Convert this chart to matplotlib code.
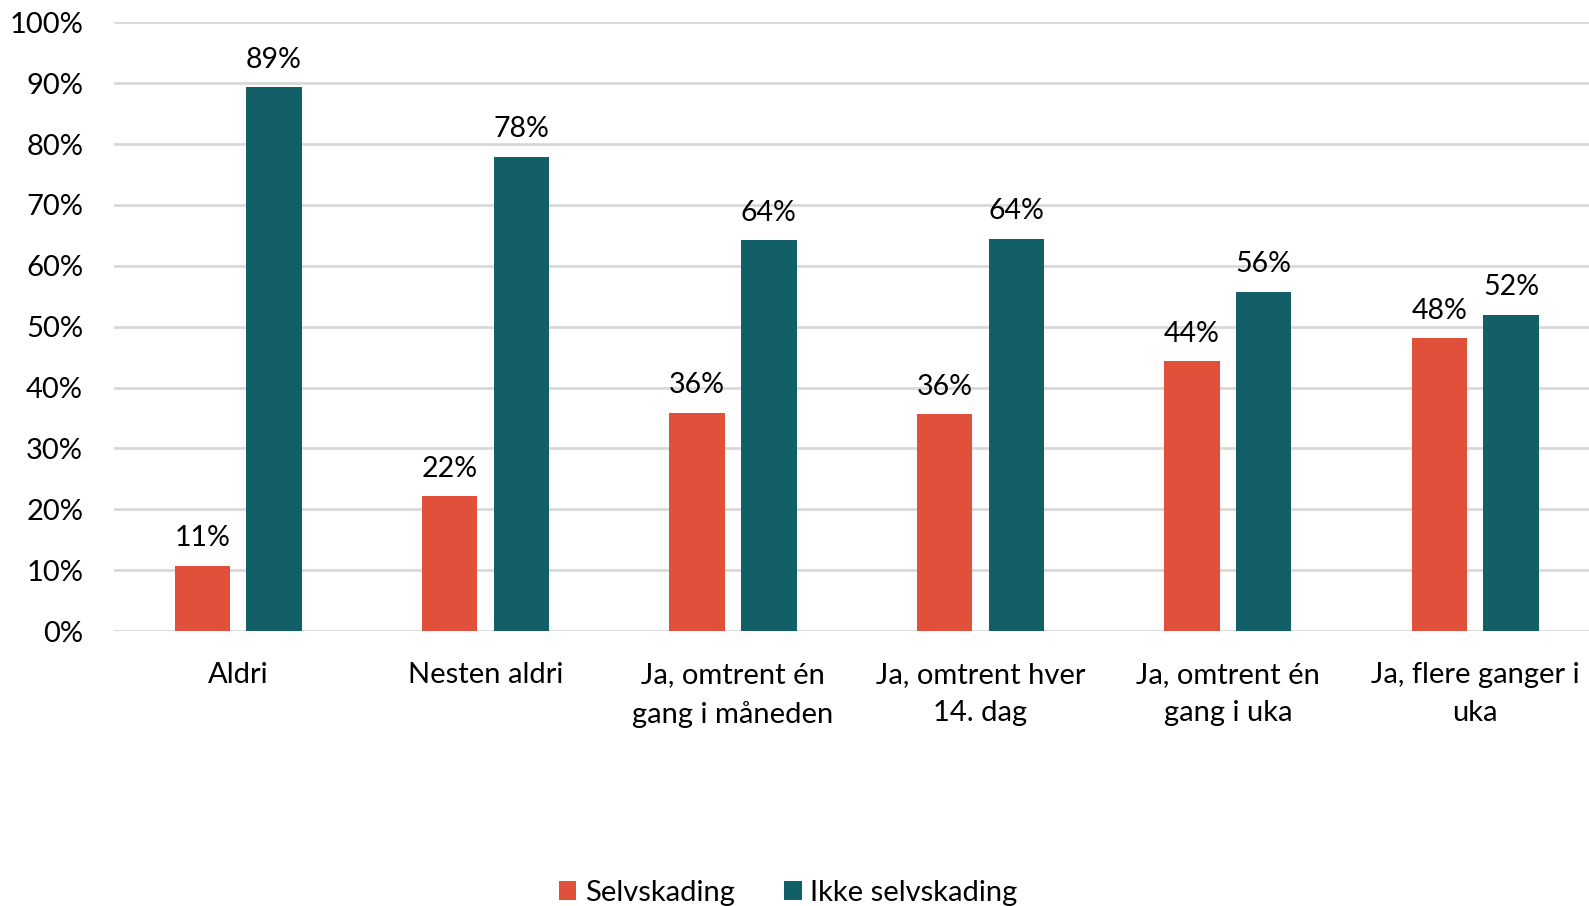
import numpy as np
import matplotlib.pyplot as plt

categories = ["Aldri", "Nesten aldri", "Ja, omtrent én\ngang i måneden",
              "Ja, omtrent hver\n14. dag", "Ja, omtrent én\ngang i uka",
              "Ja, flere ganger i\nuka"]
selvskading = [10.7, 22.1, 35.8, 35.6, 44.3, 48.1]
ikke_selvskading = [89.3, 77.9, 64.2, 64.4, 55.7, 51.9]
series_names = ["Selvskading", "Ikke selvskading"]
colors = ["#E0503B", "#135F67"]

plt.rcParams['font.family'] = ['Lato', 'DejaVu Sans']

fig = plt.figure(figsize=(15.89, 9.06), dpi=100)
# axes run a little past the right edge of the figure, as in the original
ax = fig.add_axes([114.4 / 1589, 1 - 631 / 906, (1599 - 114.4) / 1589, (631 - 22.3) / 906])

x = np.arange(len(categories))
w = 0.224
off = 0.145
bars1 = ax.bar(x - off, selvskading, w, color=colors[0], label=series_names[0], zorder=3)
bars2 = ax.bar(x + off, ikke_selvskading, w, color=colors[1], label=series_names[1], zorder=3)

for bars in (bars1, bars2):
    for b in bars:
        h = b.get_height()
        ax.text(b.get_x() + b.get_width() / 2, h + 2.4, f"{h:.0f}%", ha="center", va="bottom",
                fontsize=20.5, color="black")

ax.set_xlim(-0.5, len(categories) - 0.5)
ax.set_ylim(0, 100)
ax.set_yticks(np.arange(0, 101, 10))
ax.set_yticklabels([f"{v}%" for v in range(0, 101, 10)])
ax.set_xticks(x)
ax.set_xticklabels(categories, linespacing=1.6)
ax.tick_params(axis="both", length=0, labelsize=21, colors="black")
ax.tick_params(axis="x", pad=22)
ax.tick_params(axis="y", pad=22.5)
ax.grid(axis="y", color="#D9D9D9", linewidth=2, zorder=0)
for s in ax.spines.values():
    s.set_visible(False)

fig.legend(handles=[bars1, bars2], labels=series_names, loc="center", bbox_to_anchor=(0.496, 1 - 893 / 906),
           ncol=2, frameon=False, fontsize=21, handlelength=0.6, handleheight=0.6,
           handletextpad=0.3, columnspacing=1.7)

fig.savefig("out.png", dpi=100)
